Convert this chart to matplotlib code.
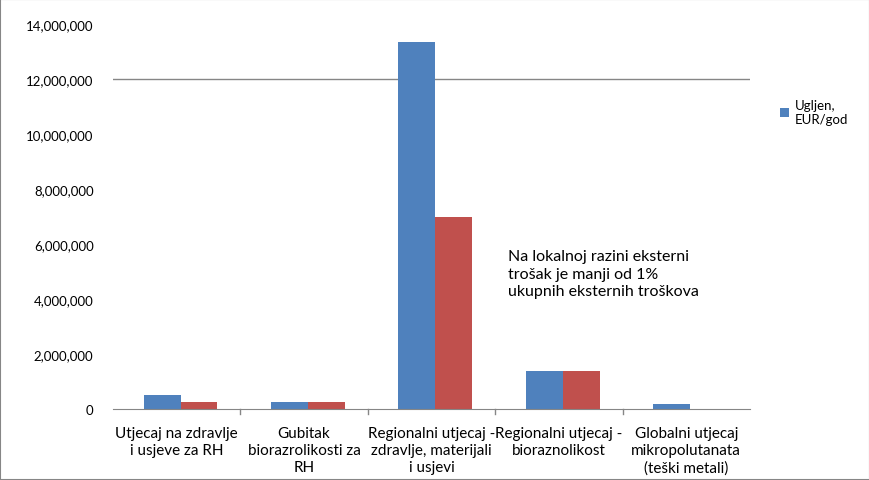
import matplotlib
matplotlib.use("Agg")
import matplotlib.pyplot as plt
import numpy as np
from matplotlib.ticker import FuncFormatter
from matplotlib.patches import Rectangle

categories = [
    "Utjecaj na zdravlje\ni usjeve za RH",
    "Gubitak\nbiorazrolikosti za\nRH",
    "Regionalni utjecaj -\nzdravlje, materijali\ni usjevi",
    "Regionalni utjecaj -\nbioraznolikost",
    "Globalni utjecaj\nmikropolutanata\n(teški metali)",
]
ugljen = [500000, 250000, 13350000, 1380000, 180000]
drugi = [270000, 250000, 6980000, 1380000, 0]
yticks = [0, 2000000, 4000000, 6000000, 8000000, 10000000, 12000000, 14000000]
legend_label = "Ugljen,\nEUR/god"
note = "Na lokalnoj razini eksterni\ntrošak je manji od 1%\nukupnih eksternih troškova"

plt.rcParams['font.family'] = ['Lato', 'DejaVu Sans']

fig = plt.figure(figsize=(8.7, 4.81), dpi=100)
ax = fig.add_axes([113/870, 1 - 410/481, (750-113)/870, (410-25)/481])

x = np.arange(len(categories))
w = 0.29
b1 = ax.bar(x - w/2 + 0.03, ugljen, w, color='#4F81BD', label=legend_label)
ax.bar(x + w/2 + 0.03, drugi, w, color='#C0504D')

ax.set_xlim(-0.5, len(categories) - 0.5)
ax.set_ylim(0, 14000000)
ax.set_yticks(yticks)
ax.yaxis.set_major_formatter(FuncFormatter(lambda v, p: f"{int(v):,}"))
ax.axhline(12000000, color='#868686', lw=1, zorder=0)
for s in ['top', 'right', 'left']:
    ax.spines[s].set_visible(False)
ax.spines['bottom'].set_color('#868686')
ax.tick_params(axis='y', length=0, labelsize=9.5, pad=14, colors='#000000')
ax.set_xticks(x)
ax.set_xticklabels(categories, fontsize=11, linespacing=1.3)
ax.tick_params(axis='x', length=0, pad=12)
for b in np.arange(0.5, len(categories) - 0.5, 1.0):
    ax.plot([b, b], [0, -0.012], transform=ax.get_xaxis_transform(),
            color='#868686', lw=1, clip_on=False)

ax.text(2.6, 5800000, note, fontsize=11.5, va='top', ha='left', linespacing=1.3)

fig.legend(handles=[b1], labels=[legend_label], loc='upper left',
           bbox_to_anchor=(768/870, 1 - 88/481), frameon=False, fontsize=9.5,
           handlelength=0.7, handleheight=0.7, handletextpad=0.4, labelspacing=0.6)

fig.patches.append(Rectangle((0, 0), 1, 1, transform=fig.transFigure,
                             fill=False, edgecolor='#868686', lw=1.5))

fig.savefig("out.png", dpi=100)
